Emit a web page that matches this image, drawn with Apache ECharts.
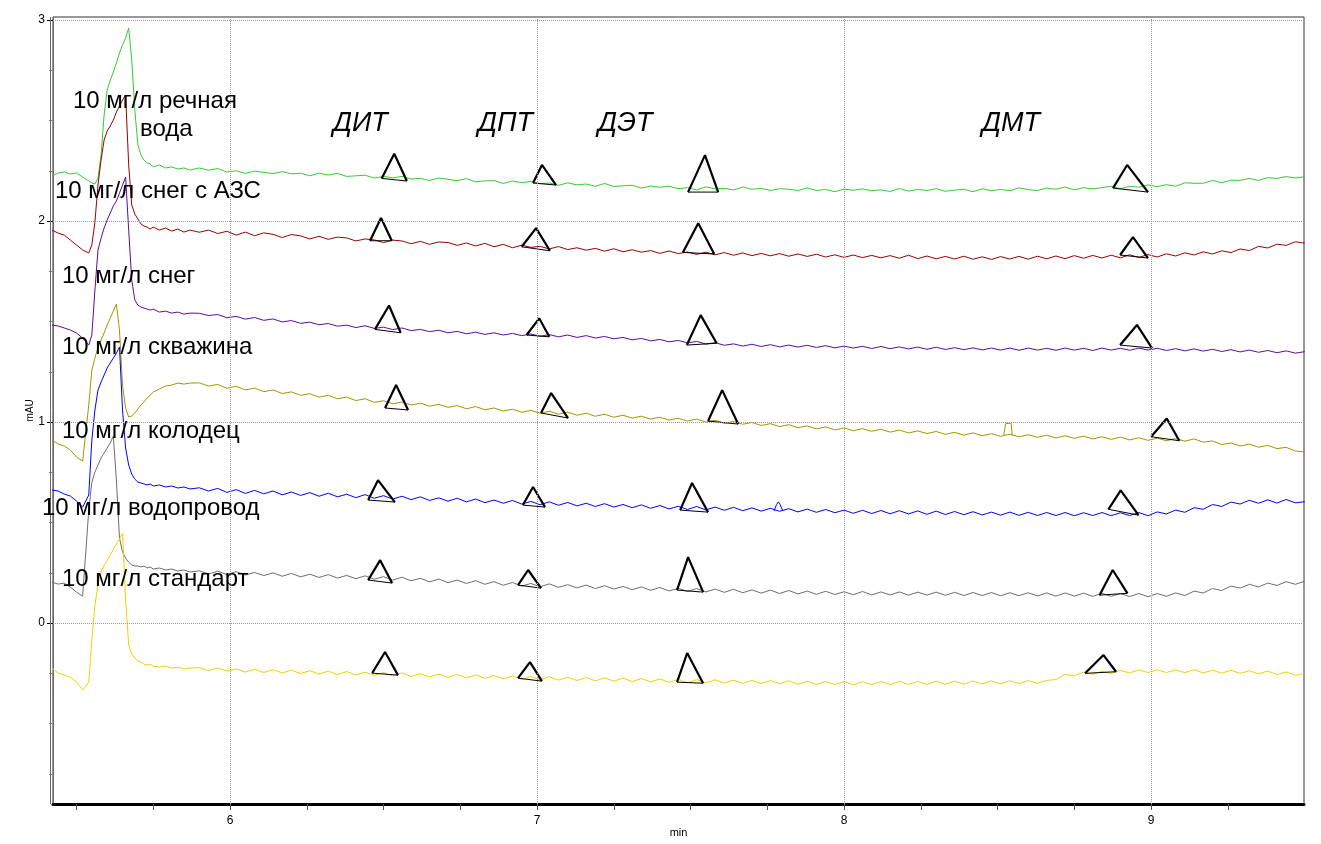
<!DOCTYPE html>
<html><head><meta charset="utf-8">
<script src="https://cdn.jsdelivr.net/npm/echarts@6/dist/echarts.min.js"></script>
<style>html,body{margin:0;padding:0;background:#fff}#c{width:1321px;height:844px}</style>
</head><body><div id="c"></div>
<script>
// ---- time grid (min) ----
const time = [5.42,5.44,5.46,5.48,5.50,5.52,5.54,
5.55,5.56,5.57,5.58,5.59,5.60,5.61,5.62,5.63,5.64,5.65,5.66,5.67,5.68,5.69,5.70,5.71,5.72,5.73,5.74,5.75,
5.77,5.79,5.81,5.83,5.85,5.87,
5.90,5.93,5.96,5.99,6.02,6.05,6.08,6.11,6.14,6.17,
6.20,6.23,6.26,6.29,6.32,6.35,6.38,6.41,6.44,6.47,
6.50,6.53,6.56,6.59,6.62,6.65,6.68,6.71,6.74,6.77,
6.80,6.83,6.86,6.89,6.92,6.95,6.98,7.01,7.04,7.07,
7.10,7.13,7.16,7.19,7.22,7.25,7.28,7.31,7.34,7.37,
7.40,7.43,7.46,7.49,7.52,7.55,7.58,7.61,7.64,7.67,
7.70,7.73,7.76,7.79,7.82,7.85,7.88,7.91,7.94,7.97,
8.00,8.03,8.06,8.09,8.12,8.15,8.18,8.21,8.24,8.27,
8.30,8.33,8.36,8.39,8.42,8.45,8.48,8.51,8.54,8.57,
8.60,8.63,8.66,8.69,8.72,8.75,8.78,8.81,8.84,8.87,
8.90,8.93,8.96,8.99,9.02,9.05,9.08,9.11,9.14,9.17,
9.20,9.23,9.26,9.29,9.32,9.35,9.38,9.41,9.44,9.47,
9.50];

// ---- signals (mAU) ----
const riverWater = [2.224,2.239,2.244,2.234,2.239,2.219,2.199,
2.189,2.184,2.214,2.328,2.527,2.652,2.701,2.741,2.786,2.836,2.876,2.910,2.960,2.801,2.552,2.378,2.328,2.303,2.289,2.284,2.269,
2.279,2.264,2.269,2.259,2.264,2.254,
2.264,2.253,2.261,2.244,2.250,2.237,2.248,2.242,2.236,2.246,
2.235,2.238,2.225,2.238,2.229,2.237,2.222,2.225,2.228,2.214,
2.222,2.215,2.222,2.209,2.212,2.202,2.214,2.208,2.201,2.211,
2.195,2.200,2.201,2.187,2.199,2.191,2.197,2.186,2.189,2.178,
2.190,2.180,2.184,2.173,2.187,2.172,2.175,2.178,2.164,2.174,
2.168,2.173,2.161,2.166,2.155,2.170,2.160,2.163,2.155,2.169,
2.158,2.163,2.152,2.161,2.158,2.152,2.165,2.152,2.157,2.146,
2.159,2.153,2.160,2.151,2.155,2.147,2.162,2.149,2.157,2.152,
2.161,2.148,2.154,2.158,2.146,2.160,2.151,2.157,2.151,2.165,
2.156,2.152,2.164,2.158,2.169,2.155,2.166,2.160,2.166,2.173,
2.160,2.173,2.168,2.180,2.171,2.181,2.173,2.190,2.188,2.188,
2.202,2.191,2.203,2.202,2.212,2.202,2.216,2.212,2.221,2.214,
2.220];

const snowGasStation = [1.955,1.940,1.930,1.905,1.881,1.856,1.841,
1.881,1.995,2.179,2.303,2.403,2.448,2.473,2.502,2.542,2.572,2.602,2.627,2.279,2.080,2.035,2.010,1.985,1.975,1.970,1.960,1.970,
1.955,1.965,1.950,1.960,1.945,1.955,
1.944,1.955,1.938,1.949,1.930,1.945,1.927,1.941,1.934,1.918,
1.933,1.926,1.911,1.924,1.909,1.920,1.916,1.901,1.911,1.906,
1.893,1.905,1.901,1.887,1.899,1.884,1.896,1.893,1.879,1.891,
1.876,1.889,1.872,1.884,1.867,1.880,1.869,1.874,1.861,1.873,
1.858,1.867,1.855,1.864,1.850,1.862,1.847,1.857,1.845,1.853,
1.839,1.851,1.838,1.846,1.834,1.845,1.832,1.843,1.830,1.841,
1.828,1.839,1.827,1.838,1.825,1.836,1.824,1.835,1.821,1.832,
1.819,1.831,1.818,1.829,1.817,1.828,1.815,1.830,1.813,1.826,
1.812,1.824,1.811,1.825,1.810,1.822,1.809,1.823,1.811,1.824,
1.810,1.825,1.812,1.826,1.813,1.828,1.815,1.829,1.816,1.830,
1.817,1.832,1.819,1.833,1.821,1.837,1.826,1.842,1.831,1.847,
1.836,1.852,1.843,1.861,1.853,1.874,1.866,1.885,1.879,1.897,
1.890];

const snow = [1.483,1.478,1.468,1.458,1.443,1.418,1.383,
1.433,1.657,1.856,1.915,1.965,2.005,2.040,2.075,2.100,2.139,2.179,2.219,1.955,1.706,1.607,1.582,1.572,1.567,1.562,1.557,1.562,
1.547,1.552,1.542,1.547,1.537,1.542,
1.541,1.530,1.535,1.519,1.526,1.512,1.520,1.506,1.513,1.498,
1.505,1.491,1.497,1.484,1.490,1.477,1.482,1.470,1.479,1.466,
1.472,1.460,1.468,1.455,1.461,1.450,1.457,1.444,1.451,1.439,
1.447,1.436,1.444,1.433,1.441,1.430,1.438,1.427,1.435,1.424,
1.433,1.421,1.430,1.418,1.426,1.414,1.421,1.409,1.416,1.404,
1.411,1.399,1.406,1.394,1.401,1.388,1.395,1.382,1.389,1.378,
1.387,1.376,1.385,1.374,1.383,1.373,1.382,1.371,1.380,1.369,
1.378,1.368,1.377,1.366,1.376,1.365,1.374,1.364,1.373,1.362,
1.372,1.361,1.370,1.360,1.369,1.359,1.368,1.358,1.368,1.357,
1.368,1.358,1.367,1.357,1.368,1.358,1.367,1.356,1.368,1.358,
1.367,1.357,1.368,1.358,1.367,1.356,1.365,1.354,1.364,1.353,
1.362,1.351,1.360,1.349,1.358,1.347,1.356,1.345,1.354,1.343,
1.350];

const well = [0.910,0.891,0.881,0.861,0.826,0.806,1.085,
1.259,1.318,1.373,1.408,1.443,1.483,1.517,1.552,1.587,1.458,1.184,1.070,1.025,1.030,1.045,1.065,1.085,1.100,1.119,1.134,1.149,
1.164,1.179,1.184,1.194,1.189,1.194,
1.195,1.179,1.187,1.168,1.178,1.160,1.169,1.151,1.160,1.142,
1.150,1.133,1.141,1.124,1.133,1.116,1.124,1.107,1.116,1.098,
1.106,1.091,1.100,1.085,1.094,1.079,1.088,1.073,1.082,1.066,
1.077,1.061,1.070,1.055,1.064,1.049,1.058,1.044,1.054,1.039,
1.049,1.034,1.044,1.029,1.039,1.024,1.034,1.020,1.029,1.015,
1.024,1.010,1.019,1.005,1.015,1.000,1.009,0.994,1.003,0.989,
0.998,0.983,0.992,0.977,0.987,0.972,0.981,0.966,0.976,0.961,
0.971,0.957,0.967,0.954,0.964,0.950,0.960,0.946,0.956,0.943,
0.953,0.939,0.949,0.935,0.946,0.932,0.942,0.929,0.940,0.926,
0.937,0.924,0.935,0.921,0.932,0.919,0.930,0.916,0.927,0.914,
0.925,0.911,0.922,0.909,0.920,0.907,0.918,0.905,0.916,0.900,
0.906,0.888,0.896,0.881,0.890,0.875,0.884,0.868,0.874,0.856,
0.852];

const dugWell = [0.662,0.657,0.642,0.632,0.607,0.577,0.637,
0.910,1.060,1.159,1.199,1.234,1.269,1.294,1.318,1.343,1.373,1.060,0.871,0.786,0.741,0.716,0.701,0.697,0.692,0.687,0.692,0.682,
0.687,0.677,0.682,0.672,0.677,0.667,
0.673,0.657,0.670,0.650,0.664,0.645,0.660,0.643,0.657,0.638,
0.652,0.635,0.649,0.631,0.646,0.628,0.641,0.624,0.639,0.621,
0.634,0.617,0.631,0.614,0.628,0.610,0.623,0.606,0.621,0.603,
0.617,0.599,0.612,0.596,0.610,0.592,0.605,0.589,0.603,0.586,
0.600,0.583,0.596,0.580,0.594,0.577,0.590,0.574,0.588,0.571,
0.585,0.568,0.581,0.565,0.580,0.563,0.577,0.561,0.576,0.559,
0.573,0.557,0.571,0.556,0.569,0.553,0.567,0.551,0.565,0.549,
0.562,0.546,0.561,0.545,0.560,0.544,0.559,0.543,0.558,0.541,
0.557,0.540,0.555,0.539,0.554,0.538,0.552,0.537,0.552,0.536,
0.551,0.535,0.550,0.535,0.550,0.534,0.549,0.535,0.550,0.534,
0.549,0.535,0.550,0.534,0.553,0.543,0.562,0.551,0.574,0.566,
0.590,0.580,0.602,0.592,0.611,0.596,0.613,0.597,0.615,0.598,
0.604];

const tapWater = [0.204,0.194,0.199,0.179,0.154,0.134,0.562,
0.701,0.751,0.786,0.821,0.846,0.871,0.896,0.930,0.711,0.423,0.353,0.323,0.303,0.289,0.284,0.284,0.279,0.284,0.274,0.279,0.269,
0.274,0.264,0.269,0.259,0.264,0.254,
0.260,0.244,0.258,0.241,0.256,0.239,0.252,0.236,0.250,0.233,
0.247,0.230,0.243,0.227,0.241,0.224,0.237,0.221,0.235,0.218,
0.231,0.214,0.228,0.210,0.223,0.205,0.219,0.201,0.214,0.197,
0.211,0.193,0.206,0.188,0.202,0.184,0.197,0.181,0.195,0.178,
0.191,0.175,0.189,0.172,0.186,0.169,0.182,0.166,0.180,0.163,
0.177,0.160,0.173,0.157,0.172,0.155,0.169,0.153,0.168,0.151,
0.165,0.149,0.164,0.147,0.162,0.145,0.159,0.143,0.158,0.142,
0.156,0.141,0.157,0.140,0.155,0.140,0.155,0.139,0.154,0.139,
0.154,0.138,0.153,0.137,0.152,0.137,0.152,0.136,0.151,0.136,
0.151,0.135,0.150,0.134,0.150,0.134,0.149,0.133,0.148,0.133,
0.147,0.132,0.147,0.131,0.147,0.133,0.150,0.137,0.159,0.150,
0.172,0.162,0.184,0.174,0.193,0.180,0.199,0.187,0.206,0.193,
0.208];

const standard = [-0.224,-0.249,-0.259,-0.269,-0.294,-0.333,-0.294,
-0.085,0.090,0.189,0.254,0.289,0.313,0.338,0.368,0.393,0.418,0.448,0.114,-0.109,-0.154,-0.174,-0.189,-0.194,-0.204,-0.209,-0.204,-0.214,
-0.219,-0.214,-0.224,-0.219,-0.229,-0.224,
-0.222,-0.237,-0.223,-0.239,-0.228,-0.244,-0.230,-0.246,-0.232,-0.248,
-0.234,-0.251,-0.237,-0.253,-0.239,-0.256,-0.241,-0.258,-0.244,-0.260,
-0.246,-0.263,-0.248,-0.266,-0.251,-0.268,-0.254,-0.270,-0.256,-0.273,
-0.258,-0.275,-0.261,-0.277,-0.263,-0.280,-0.265,-0.282,-0.267,-0.284,
-0.269,-0.286,-0.271,-0.287,-0.272,-0.289,-0.274,-0.291,-0.276,-0.293,
-0.278,-0.295,-0.280,-0.297,-0.281,-0.298,-0.282,-0.299,-0.284,-0.300,
-0.285,-0.301,-0.286,-0.302,-0.287,-0.304,-0.289,-0.305,-0.290,-0.306,
-0.291,-0.307,-0.292,-0.306,-0.291,-0.306,-0.290,-0.305,-0.290,-0.305,
-0.289,-0.304,-0.289,-0.304,-0.288,-0.303,-0.287,-0.302,-0.287,-0.301,
-0.286,-0.300,-0.285,-0.281,-0.256,-0.262,-0.244,-0.255,-0.240,-0.251,
-0.235,-0.248,-0.233,-0.246,-0.232,-0.246,-0.233,-0.247,-0.232,-0.248,
-0.234,-0.249,-0.235,-0.250,-0.237,-0.252,-0.239,-0.256,-0.243,-0.260,
-0.250];

// small artefacts
const wellBumpT = [8.520,8.526,8.530,8.544,8.548];
const wellBumpV = [0.933,0.992,0.998,0.994,0.935];
const dugWellBumpT = [7.772,7.780,7.786,7.792,7.800];
const dugWellBumpV = [0.558,0.590,0.603,0.588,0.560];

// integrated peaks: [tStart, vStart, tApex, vApex, tEnd, vEnd]
const riverWaterPeaks = [[6.494,2.212,6.535,2.335,6.576,2.199],[6.987,2.189,7.016,2.279,7.062,2.179],[7.492,2.144,7.547,2.328,7.590,2.144],[8.876,2.164,8.922,2.279,8.990,2.144]];
const snowGasStationPeaks = [[6.456,1.902,6.492,2.015,6.527,1.902],[6.950,1.872,6.997,1.965,7.042,1.852],[7.475,1.844,7.525,1.989,7.577,1.836],[8.899,1.831,8.941,1.920,8.990,1.816]];
const snowPeaks = [[6.472,1.461,6.518,1.580,6.556,1.444],[6.966,1.433,7.007,1.516,7.040,1.424],[7.488,1.383,7.533,1.532,7.585,1.392],[8.899,1.383,8.954,1.483,9.003,1.368]];
const wellPeaks = [[6.505,1.070,6.541,1.184,6.580,1.060],[7.013,1.045,7.046,1.144,7.101,1.020],[7.557,1.005,7.603,1.159,7.655,0.990],[9.000,0.927,9.051,1.018,9.092,0.907]];
const dugWellPeaks = [[6.450,0.612,6.482,0.711,6.537,0.602],[6.954,0.587,6.987,0.677,7.026,0.577],[7.466,0.562,7.505,0.697,7.557,0.552],[8.861,0.566,8.901,0.660,8.959,0.537]];
const tapWaterPeaks = [[6.450,0.214,6.489,0.313,6.528,0.199],[6.938,0.189,6.971,0.264,7.013,0.174],[7.456,0.164,7.492,0.328,7.541,0.154],[8.832,0.139,8.875,0.264,8.923,0.148]];
const standardPeaks = [[6.463,-0.249,6.505,-0.144,6.547,-0.259],[6.938,-0.274,6.977,-0.194,7.016,-0.289],[7.456,-0.294,7.489,-0.149,7.541,-0.299],[8.785,-0.250,8.845,-0.159,8.886,-0.242]];

// ticks and text
const xMajor = [6,7,8,9];
const xTicks = [5.5,5.75,6,6.25,6.5,6.75,7,7.25,7.5,7.75,8,8.25,8.5,8.75,9,9.25];
const yMajor = [0,1,2,3];
const yMinor = [-0.75,-0.5,-0.25,0.25,0.5,0.75,1.25,1.5,1.75,2.25,2.5,2.75];
const sampleLabels = ['10 мг/л речная','вода','10 мг/л снег с АЗС','10 мг/л снег','10 мг/л скважина','10 мг/л колодец','10 мг/л водопровод','10 мг/л стандарт'];
const compoundLabels = ['ДИТ','ДПТ','ДЭТ','ДМТ'];

// ---- layout / styles ----
const X_MIN = 5.4235, X_MAX = 9.498, Y_MIN = -0.9, Y_MAX = 3.015;
const FONT = '"Liberation Sans", Arial, sans-serif';
const sampleLabelPos = [[73,101],[140,129],[55,191],[62,276],[62,347],[62,431],[42,508],[62,579]];
const compoundLabelPos = [[333,123],[478,123],[598,123],[982,123]];

function pairs(t, v){ const out=[]; const n=Math.min(t.length,v.length); for(let i=0;i<n;i++) out.push([t[i],v[i]]); return out; }

const traces = [
  {data: riverWater, peaks: riverWaterPeaks, color:'#33cc33'},
  {data: snowGasStation, peaks: snowGasStationPeaks, color:'#990000'},
  {data: snow, peaks: snowPeaks, color:'#5c0c9c'},
  {data: well, peaks: wellPeaks, color:'#9a9a00'},
  {data: dugWell, peaks: dugWellPeaks, color:'#0000ff'},
  {data: tapWater, peaks: tapWaterPeaks, color:'#6e6e6e'},
  {data: standard, peaks: standardPeaks, color:'#f2cf00'}
];

const series = [];
series.push({
  type:'line', data:[[X_MIN, Y_MIN]], symbol:'none', lineStyle:{opacity:0}, z:1, silent:true, animation:false,
  markLine:{silent:true, symbol:'none', animation:false, label:{show:false},
    lineStyle:{type:'dotted', color:'#9a9a9a', width:1},
    data: xMajor.map(v=>({xAxis:v})).concat(yMajor.map(v=>({yAxis:v})))}
});
traces.forEach(tr => {
  series.push({type:'line', data: pairs(time, tr.data), symbol:'none', showSymbol:false,
    lineStyle:{color:tr.color, width:1}, itemStyle:{color:tr.color}, z:2, silent:true, animation:false});
});
series.push({type:'line', data: pairs(wellBumpT, wellBumpV), symbol:'none', lineStyle:{color:'#9a9a00', width:1}, z:2, silent:true, animation:false});
series.push({type:'line', data: pairs(dugWellBumpT, dugWellBumpV), symbol:'none', lineStyle:{color:'#0000ff', width:1}, z:2, silent:true, animation:false});
traces.forEach(tr => tr.peaks.forEach(p => {
  series.push({type:'line', data:[[p[0],p[1]],[p[2],p[3]],[p[4],p[5]]], symbol:'none',
    lineStyle:{color:'#000', width:2.2}, z:4, silent:true, animation:false});
  series.push({type:'line', data:[[p[0],p[1]],[p[4],p[5]]], symbol:'none',
    lineStyle:{color:'#000', width:1}, z:4, silent:true, animation:false});
}));

const graphic = [
  {type:'line', shape:{x1:50.5,y1:17,x2:50.5,y2:804}, style:{stroke:'#6a6a6a', lineWidth:1}, z:50, silent:true}
];
sampleLabels.forEach((t,i)=>{
  graphic.push({type:'text', x:sampleLabelPos[i][0], y:sampleLabelPos[i][1], z:100, silent:true,
    style:{text:t, font:'24px '+FONT, fill:'#000', textVerticalAlign:'middle', verticalAlign:'middle', textAlign:'left', align:'left'}});
});
compoundLabels.forEach((t,i)=>{
  graphic.push({type:'text', x:compoundLabelPos[i][0], y:compoundLabelPos[i][1], z:100, silent:true,
    style:{text:t, font:'italic 27px '+FONT, fill:'#000', textVerticalAlign:'middle', verticalAlign:'middle', textAlign:'left', align:'left'}});
});

const chart = echarts.init(document.getElementById('c'));
chart.setOption({
  animation:false,
  backgroundColor:'#fff',
  grid:{left:53, right:17, top:17, bottom:40, show:true, borderColor:'#333', borderWidth:1, backgroundColor:'transparent',
        containLabel:false, outerBoundsMode:'none'},
  xAxis:[
    {type:'value', min:X_MIN, max:X_MAX, position:'bottom',
     axisLine:{show:true, onZero:false, lineStyle:{color:'#000', width:3}},
     axisTick:{show:true, customValues:xTicks, length:6, lineStyle:{color:'#555'}},
     axisLabel:{customValues:xMajor, color:'#000', fontSize:12, margin:11, fontFamily:FONT},
     splitLine:{show:false},
     name:'min', nameLocation:'middle', nameGap:23, nameMoveOverlap:false, nameTextStyle:{fontSize:11, color:'#000', fontFamily:FONT}}
  ],
  yAxis:[
    {type:'value', min:Y_MIN, max:Y_MAX, position:'left',
     axisLine:{show:true, onZero:false, lineStyle:{color:'#6a6a6a', width:1}},
     axisTick:{show:true, customValues:yMajor, length:6, lineStyle:{color:'#000'}},
     axisLabel:{customValues:yMajor, color:'#000', fontSize:12, margin:8, fontFamily:FONT},
     splitLine:{show:false},
     name:'mAU', nameLocation:'middle', nameGap:18, nameMoveOverlap:false, nameRotate:90, nameTextStyle:{fontSize:10, color:'#000', fontFamily:FONT}},
    {type:'value', min:Y_MIN, max:Y_MAX, position:'left',
     axisLine:{show:false, onZero:false},
     axisTick:{show:true, inside:false, customValues:yMinor, length:4, lineStyle:{color:'#888'}},
     axisLabel:{show:false}, splitLine:{show:false}}
  ],
  series: series,
  graphic: graphic
});
</script></body></html>
